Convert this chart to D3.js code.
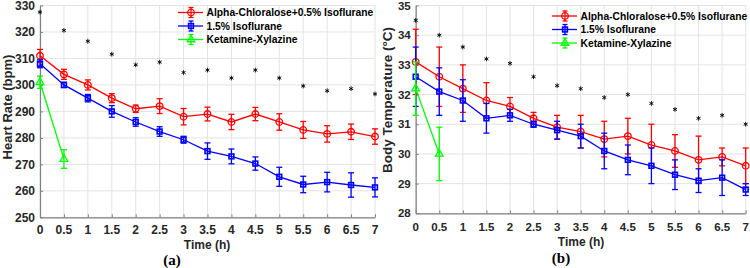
<!DOCTYPE html>
<html>
<head>
<meta charset="utf-8">
<script src="https://cdn.jsdelivr.net/npm/d3@7"></script>
<style>
    body { margin: 0; background: #fff; }
    svg { display: block; font-family: "Liberation Sans", Arial, sans-serif; }
    .tick-label { font-weight: bold; fill: #262626; }
    .grid line { stroke: #e3e3e3; stroke-width: 1; }
    .legend text { font-weight: bold; font-size: 10.3px; fill: #000; }
</style>
</head>
<body>
<svg width="750" height="268"></svg>
<script>
    // time points (h)
    var times = [0, 0.5, 1, 1.5, 2, 2.5, 3, 3.5, 4, 4.5, 5, 5.5, 6, 6.5, 7];
    var timeTicks = [0, 0.5, 1, 1.5, 2, 2.5, 3, 3.5, 4, 4.5, 5, 5.5, 6, 6.5, 7];
    var seriesNames = ["Alpha-Chloralose+0.5% Isoflurane", "1.5% Isoflurane", "Ketamine-Xylazine"];

    // (a) heart rate, bpm
    var hrTicks = [250, 260, 270, 280, 290, 300, 310, 320, 330];
    var hrAlpha = [311, 304, 300, 295, 291, 292, 288, 289, 286, 289, 286, 283, 281.5, 282.3, 280.5];
    var hrAlphaErr = [2.4, 1.9, 1.9, 1.7, 1.4, 2.8, 3.1, 2.6, 2.9, 2.5, 3.1, 3.2, 3.1, 2.9, 2.9];
    var hrIso = [308, 300, 295, 290, 286, 282.4, 279.3, 275, 273, 270.3, 265.3, 262.4, 263.3, 262.2, 261.3];
    var hrIsoErr = [1.5, 1.0, 1.4, 2.2, 1.6, 1.8, 1.3, 3.1, 2.8, 2.5, 3.6, 3.1, 3.7, 4.6, 3.6];
    var hrKet = [301, 272];
    var hrKetErr = [2.3, 3.5];
    var hrStar = [327.5, 320.6, 316.5, 311.6, 307.6, 308.6, 304.7, 305.6, 302.6, 305.6, 302.6, 299.6, 297.8, 298.6, 296.6];

    // (b) body temperature, °C
    var tempTicks = [28, 29, 30, 31, 32, 33, 34, 35];
    var tempAlpha = [33.1, 32.6, 32.2, 31.8, 31.6, 31.2, 30.9, 30.75, 30.5, 30.6, 30.3, 30.1, 29.8, 29.9, 29.6];
    var tempAlphaErr = [1.1, 1.0, 0.8, 0.6, 0.3, 0.2, 0.4, 0.55, 0.6, 0.6, 0.7, 0.55, 0.8, 0.3, 0.6];
    var tempIso = [32.6, 32.1, 31.8, 31.2, 31.3, 31.0, 30.8, 30.6, 30.1, 29.8, 29.6, 29.3, 29.1, 29.2, 28.8];
    var tempIsoErr = [1.0, 0.8, 0.7, 0.5, 0.2, 0.1, 0.3, 0.4, 0.6, 0.5, 0.6, 0.5, 0.4, 0.6, 0.2];
    var tempKet = [32.2, 30.0];
    var tempKetErr = [0.9, 0.9];
    var tempStar = [34.5, 34.0, 33.6, 33.2, 33.05, 32.6, 32.3, 32.2, 31.9, 32.0, 31.7, 31.5, 31.2, 31.3, 31.0];

    var colors = ["#ff0000", "#0000ff", "#00ff00"];

    var svg = d3.select("svg");

    // matlab-style '*' marker
    var asterisk = {
        draw: function(ctx, size) {
            var r = Math.sqrt(size) / 2;
            for (var i = 0; i < 3; i++) {
                var a = Math.PI / 2 + i * Math.PI / 3;
                ctx.moveTo(r * Math.cos(a), r * Math.sin(a));
                ctx.lineTo(-r * Math.cos(a), -r * Math.sin(a));
            }
        }
    };

    function marker(sel, kind, color) {
        if (kind == "circle") {
            sel.append("circle").attr("r", 3.3)
                .attr("fill", "none").attr("stroke", color).attr("stroke-width", 1.3);
        } else if (kind == "square") {
            sel.append("rect").attr("x", -2.4).attr("y", -2.4).attr("width", 4.8).attr("height", 4.8)
                .attr("fill", "none").attr("stroke", color).attr("stroke-width", 1.6);
        } else {
            sel.append("path").attr("d", d3.symbol().type(d3.symbolTriangle).size(26)())
                .attr("fill", "none").attr("stroke", color).attr("stroke-width", 1.3);
        }
    }

    function drawPanel(p) {
        var x = d3.scaleLinear().domain([0, 7]).range(p.xRange),
            y = d3.scaleLinear().domain(p.yDomain).range(p.yRange);
        var g = svg.append("g");

        // grid
        var grid = g.append("g").attr("class", "grid");
        grid.selectAll(".gx").data(timeTicks).enter().append("line")
            .attr("x1", function(d) { return x(d); }).attr("x2", function(d) { return x(d); })
            .attr("y1", p.yRange[0]).attr("y2", p.yRange[1]);
        grid.selectAll(".gy").data(p.yTicks).enter().append("line")
            .attr("x1", p.xRange[0]).attr("x2", p.xRange[1])
            .attr("y1", function(d) { return y(d); }).attr("y2", function(d) { return y(d); });

        // axes, ticks pointing in
        g.append("g")
            .attr("transform", "translate(0," + p.yRange[0] + ")")
            .call(d3.axisBottom(x).tickValues(timeTicks).tickSizeInner(-3).tickSizeOuter(0).tickFormat(""));
        g.append("g")
            .attr("transform", "translate(" + p.xRange[0] + ",0)")
            .call(d3.axisLeft(y).tickValues(p.yTicks).tickSizeInner(-3).tickSizeOuter(0).tickFormat(""));
        g.selectAll(".domain").attr("stroke", "#808080").attr("stroke-width", 1.2);
        g.selectAll(".tick line").attr("stroke", "#808080");

        g.selectAll(".xlab").data(timeTicks).enter().append("text")
            .attr("class", "tick-label")
            .attr("x", function(d) { return x(d); })
            .attr("y", p.xTickY)
            .attr("text-anchor", "middle")
            .style("font-size", p.tickFont)
            .text(function(d) { return d3.format("")(d); });
        g.selectAll(".ylab").data(p.yTicks).enter().append("text")
            .attr("class", "tick-label")
            .attr("x", p.xRange[0] - 5)
            .attr("y", function(d) { return y(d); })
            .attr("dy", "0.36em")
            .attr("text-anchor", "end")
            .style("font-size", p.tickFont)
            .text(function(d) { return d; });

        // axis titles
        g.append("text")
            .attr("x", p.xTitle[0]).attr("y", p.xTitle[1])
            .attr("text-anchor", "middle")
            .style("font-size", "12px").style("font-weight", "bold").attr("fill", "#262626")
            .text("Time (h)");
        g.append("text")
            .attr("transform", "translate(" + p.yTitle[0] + "," + p.yTitle[1] + ") rotate(-90)")
            .attr("text-anchor", "middle")
            .style("font-size", p.yTitleFont).style("font-weight", "bold").attr("fill", "#262626")
            .text(p.yTitleText);
        g.append("text")
            .attr("x", p.caption[0]).attr("y", p.caption[1])
            .attr("text-anchor", "middle")
            .style("font-family", "'Liberation Serif', 'Times New Roman', serif")
            .style("font-size", "15px").style("font-weight", "bold")
            .text(p.captionText);

        // series
        var line = d3.line()
            .x(function(d) { return x(d.t); })
            .y(function(d) { return y(d.v); });

        p.series.forEach(function(s, i) {
            var pts = s.values.map(function(v, j) {
                return { t: times[j], v: v, e: s.errs[j] };
            });
            var sg = g.append("g");
            sg.append("path").datum(pts)
                .attr("d", line)
                .attr("fill", "none")
                .attr("stroke", colors[i])
                .attr("stroke-width", 1.3);

            var eb = sg.selectAll(".eb").data(pts).enter().append("g");
            eb.append("line")
                .attr("x1", function(d) { return x(d.t); }).attr("x2", function(d) { return x(d.t); })
                .attr("y1", function(d) { return y(d.v - d.e); }).attr("y2", function(d) { return y(d.v + d.e); });
            eb.append("line")
                .attr("x1", function(d) { return x(d.t) - 3; }).attr("x2", function(d) { return x(d.t) + 3; })
                .attr("y1", function(d) { return y(d.v - d.e); }).attr("y2", function(d) { return y(d.v - d.e); });
            eb.append("line")
                .attr("x1", function(d) { return x(d.t) - 3; }).attr("x2", function(d) { return x(d.t) + 3; })
                .attr("y1", function(d) { return y(d.v + d.e); }).attr("y2", function(d) { return y(d.v + d.e); });
            eb.selectAll("line").attr("stroke", colors[i]).attr("stroke-width", 1.3);

            sg.selectAll(".mk").data(pts).enter().append("g")
                .attr("transform", function(d) { return "translate(" + x(d.t) + "," + y(d.v) + ")"; })
                .each(function() { marker(d3.select(this), s.marker, colors[i]); });
        });

        // significance stars
        g.selectAll(".star").data(p.stars).enter().append("path")
            .attr("transform", function(d, j) { return "translate(" + x(times[j]) + "," + y(d) + ")"; })
            .attr("d", d3.symbol().type(asterisk).size(22)())
            .attr("stroke", "#000")
            .attr("stroke-width", 0.9);

        // legend
        var lg = g.append("g").attr("class", "legend");
        p.series.forEach(function(s, i) {
            var row = lg.append("g")
                .attr("transform", "translate(" + p.legend[0] + "," + (p.legend[1] + i * 13.5) + ")");
            row.append("line").attr("x1", -13).attr("x2", 12).attr("y1", 0).attr("y2", 0)
                .attr("stroke", colors[i]).attr("stroke-width", 1.3);
            row.append("line").attr("x1", 0).attr("x2", 0).attr("y1", -5).attr("y2", 5)
                .attr("stroke", colors[i]).attr("stroke-width", 1.3);
            row.append("line").attr("x1", -2.5).attr("x2", 2.5).attr("y1", -5).attr("y2", -5)
                .attr("stroke", colors[i]).attr("stroke-width", 1.3);
            row.append("line").attr("x1", -2.5).attr("x2", 2.5).attr("y1", 5).attr("y2", 5)
                .attr("stroke", colors[i]).attr("stroke-width", 1.3);
            marker(row, s.marker, colors[i]);
            row.append("text").attr("x", 15.5).attr("y", 0).attr("dy", "0.36em").text(seriesNames[i]);
        });
    }

    drawPanel({
        xRange: [40, 375],
        yDomain: [250, 330],
        yRange: [217.3, 5.5],
        yTicks: hrTicks,
        tickFont: "12px",
        xTickY: 234,
        xTitle: [207, 249],
        yTitle: [12, 107],
        yTitleFont: "13px",
        yTitleText: "Heart Rate (bpm)",
        caption: [172, 265],
        captionText: "(a)",
        legend: [191, 12.5],
        stars: hrStar,
        series: [
            { values: hrAlpha, errs: hrAlphaErr, marker: "circle" },
            { values: hrIso, errs: hrIsoErr, marker: "square" },
            { values: hrKet, errs: hrKetErr, marker: "triangle" }
        ]
    });

    drawPanel({
        xRange: [415.7, 745.7],
        yDomain: [28, 35],
        yRange: [213.3, 5.5],
        yTicks: tempTicks,
        tickFont: "11.5px",
        xTickY: 231,
        xTitle: [581, 246],
        yTitle: [392, 100],
        yTitleFont: "13.5px",
        yTitleText: "Body Temperature (°C)",
        caption: [561, 263],
        captionText: "(b)",
        legend: [565, 16],
        stars: tempStar,
        series: [
            { values: tempAlpha, errs: tempAlphaErr, marker: "circle" },
            { values: tempIso, errs: tempIsoErr, marker: "square" },
            { values: tempKet, errs: tempKetErr, marker: "triangle" }
        ]
    });
</script>
</body>
</html>
